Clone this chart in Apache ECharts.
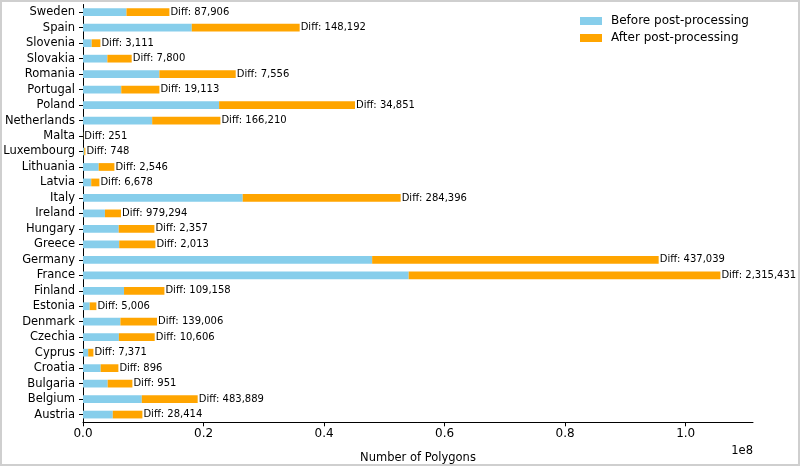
<!DOCTYPE html>
<html>
<head>
<meta charset="utf-8">
<script src="https://cdn.jsdelivr.net/npm/echarts@6/dist/echarts.min.js"></script>
<style>
html,body{margin:0;padding:0;background:#fff;}
#chart{width:800px;height:466px;position:absolute;left:0;top:0;}
#frame{position:absolute;left:0;top:0;width:796px;height:462px;border:2px solid #cfcfcf;pointer-events:none;}
</style>
</head>
<body>
<div id="chart"></div>
<div id="frame"></div>
<script>
// Categories from bottom (Austria) to top (Sweden)
const countries = ['Austria','Belgium','Bulgaria','Croatia','Cyprus','Czechia','Denmark','Estonia','Finland','France','Germany','Greece','Hungary','Ireland','Italy','Latvia','Lithuania','Luxembourg','Malta','Netherlands','Poland','Portugal','Romania','Slovakia','Slovenia','Spain','Sweden'];
const beforeCounts = [4942000, 9757000, 4099000, 2937000, 866000, 5955000, 6209000, 1114000, 6809000, 54040000, 47980000, 6006000, 5925000, 3642000, 26500000, 1364000, 2606000, 199000, 25000, 11480000, 22580000, 6349000, 12670000, 4044000, 1445000, 18050000, 7213000];
const afterCounts = [4914000, 9273000, 4098000, 2936000, 859000, 5944000, 6070000, 1109000, 6700000, 51720000, 47540000, 6004000, 5923000, 2663000, 26210000, 1357000, 2604000, 198000, 25000, 11320000, 22550000, 6330000, 12670000, 4036000, 1442000, 17900000, 7125000];
const diffLabels = ['28,414','483,889','951','896','7,371','10,606','139,006','5,006','109,158','2,315,431','437,039','2,013','2,357','979,294','284,396','6,678','2,546','748','251','166,210','34,851','19,113','7,556','7,800','3,111','148,192','87,906'];
const xTicks = [0, 20000000, 40000000, 60000000, 80000000, 100000000];

const font = 'DejaVu Sans';
const chart = echarts.init(document.getElementById('chart'));
chart.setOption({
  animation: false,
  textStyle: {fontFamily: font},
  grid: {left: 83, right: 47, top: 4.5, bottom: 43.7, containLabel: false, outerBoundsMode: 'none'},
  legend: {
    orient: 'vertical', left: 575, top: 10, itemWidth: 22, itemHeight: 8, itemGap: 5,
    icon: 'rect',
    textStyle: {fontFamily: font, fontSize: 12, color: '#000', padding: [0, 0, 0, 4]},
    data: ['Before post-processing', 'After post-processing']
  },
  xAxis: {
    type: 'value', min: 0, max: 111170000,
    name: 'Number of Polygons', nameLocation: 'middle', nameGap: 30,
    nameTextStyle: {fontFamily: font, fontSize: 11.5, color: '#000'},
    splitLine: {show: false},
    axisLine: {show: true, lineStyle: {color: '#000', width: 1}},
    axisTick: {show: true, length: 4, customValues: xTicks, lineStyle: {color: '#000'}},
    axisLabel: {customValues: xTicks, fontFamily: font, fontSize: 12, color: '#000', margin: 6,
      formatter: v => (v / 1e8).toFixed(1)}
  },
  yAxis: {
    type: 'category', data: countries,
    axisLine: {show: true, lineStyle: {color: '#000', width: 1}},
    axisTick: {show: true, length: 4, alignWithLabel: true, interval: 0, lineStyle: {color: '#000'}},
    axisLabel: {fontFamily: font, fontSize: 11.5, color: '#000', margin: 8, interval: 0}
  },
  series: [
    {name: 'Before post-processing', type: 'bar', stack: 'a', barWidth: '50%',
      itemStyle: {color: '#87CEEB'}, data: beforeCounts},
    {name: 'After post-processing', type: 'bar', stack: 'a', barWidth: '50%',
      itemStyle: {color: '#FFA500'}, data: afterCounts,
      label: {show: true, position: 'right', distance: 1, fontFamily: font, fontSize: 10, color: '#000',
        formatter: p => 'Diff: ' + diffLabels[p.dataIndex]}}
  ],
  graphic: [{type: 'text', right: 47, top: 445,
    style: {text: '1e8', fontFamily: font, fontSize: 11.5, fill: '#000', textAlign: 'right'}}]
});
</script>
</body>
</html>
